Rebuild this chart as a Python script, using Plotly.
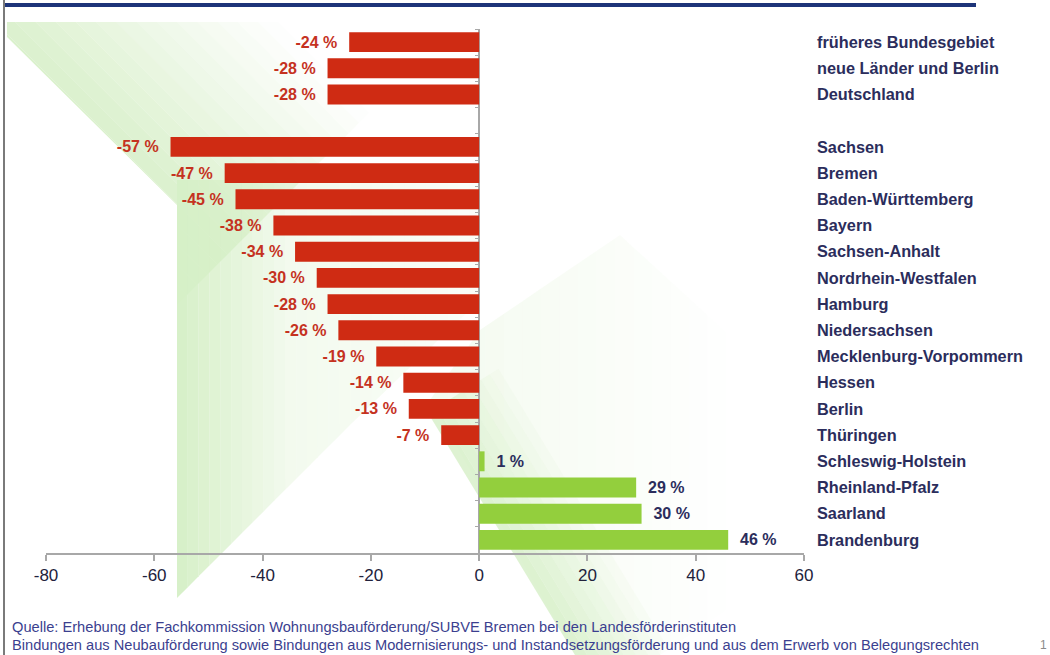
import math
import plotly.graph_objects as go

# ---------------- data ----------------
categories = [
    "früheres Bundesgebiet", "neue Länder und Berlin", "Deutschland", " ",
    "Sachsen", "Bremen", "Baden-Württemberg", "Bayern", "Sachsen-Anhalt",
    "Nordrhein-Westfalen", "Hamburg", "Niedersachsen", "Mecklenburg-Vorpommern",
    "Hessen", "Berlin", "Thüringen", "Schleswig-Holstein", "Rheinland-Pfalz",
    "Saarland", "Brandenburg",
]
values = [-24, -28, -28, None,
          -57, -47, -45, -38, -34, -30, -28, -26, -19, -14, -13, -7,
          1, 29, 30, 46]
x_ticks = [-80, -60, -40, -20, 0, 20, 40, 60]
footnote_lines = [
    "Quelle: Erhebung der Fachkommission Wohnungsbauförderung/SUBVE Bremen bei den Landesförderinstituten",
    "Bindungen aus Neubauförderung sowie Bindungen aus Modernisierungs- und Instandsetzungsförderung und aus dem Erwerb von Belegungsrechten",
]
page_number = "1"

# ---------------- styling ----------------
W, H = 1050, 655
ML, MR, MT, MB = 46, 246, 29, 102
PW, PH = W - ML - MR, H - MT - MB
X_RANGE = [-80, 60]

RED = "#cf2b13"
GREEN = "#93cf3d"
RED_TXT = "#c5321f"
NAVY_TXT = "#2b2d5c"
AXIS_GREY = "#a8a8a8"
FONT = "Liberation Sans, Arial, sans-serif"
BG_GREEN = (214, 239, 199)


def px(x):
    return (x - ML) / PW


def py(y):
    return (H - MB - y) / PH


def path(points):
    return "M " + " L ".join(f"{px(a):.5f},{py(b):.5f}" for a, b in points) + " Z"


def clip(poly, a, b, c, keep_ge):
    """Clip polygon by half-plane a*x+b*y >= c (or <= c)."""
    def inside(p):
        v = a * p[0] + b * p[1] - c
        return v >= 0 if keep_ge else v <= 0

    out = []
    n = len(poly)
    for i in range(n):
        cur, prev = poly[i], poly[i - 1]
        ci, pi = inside(cur), inside(prev)
        if ci != pi:
            vp = a * prev[0] + b * prev[1] - c
            vc = a * cur[0] + b * cur[1] - c
            t = vp / (vp - vc)
            out.append((prev[0] + t * (cur[0] - prev[0]), prev[1] + t * (cur[1] - prev[1])))
        if ci:
            out.append(cur)
    return out


def rgba(alpha):
    r, g, b = BG_GREEN
    return f"rgba({r},{g},{b},{alpha:.3f})"


def gradient_shapes(poly, direction, stops, n=24):
    """Fill poly with a linear gradient along 'direction' (stops: list of (t, alpha))."""
    dx, dy = direction
    ln = math.hypot(dx, dy)
    dx, dy = dx / ln, dy / ln
    ts = [dx * p[0] + dy * p[1] for p in poly]
    t0, t1 = min(ts), max(ts)
    res = []
    for k in range(n):
        a0 = t0 + (t1 - t0) * k / n
        a1 = t0 + (t1 - t0) * (k + 1) / n
        piece = clip(poly, dx, dy, a0, True)
        piece = clip(piece, dx, dy, a1, False) if piece else piece
        if len(piece) < 3:
            continue
        tm = (a0 + a1) / 2
        alpha = stops[-1][1]
        if tm <= stops[0][0]:
            alpha = stops[0][1]
        else:
            for (sa, aa), (sb, ab) in zip(stops, stops[1:]):
                if sa <= tm <= sb:
                    alpha = aa + (ab - aa) * (tm - sa) / (sb - sa)
                    break
        if alpha <= 0.01:
            continue
        res.append(dict(type="path", xref="paper", yref="paper", layer="below",
                        path=path(piece), fillcolor=rgba(alpha), line_width=0))
    return res


neg_x = [v if (v is not None and v < 0) else None for v in values]
pos_x = [v if (v is not None and v >= 0) else None for v in values]
neg_txt = [f"{v} %\u00a0\u00a0" if (v is not None and v < 0) else "" for v in values]
pos_txt = [f"\u00a0\u00a0{v} %" if (v is not None and v >= 0) else "" for v in values]

fig = go.Figure()
fig.add_trace(go.Bar(
    y=categories, x=neg_x, orientation="h", marker_color=RED,
    marker_line_width=0, width=0.76,
    text=neg_txt, textposition="outside", cliponaxis=False,
    textfont=dict(family=FONT, size=16, color=RED_TXT, weight="bold"),
    hoverinfo="skip",
))
fig.add_trace(go.Bar(
    y=categories, x=pos_x, orientation="h", marker_color=GREEN,
    marker_line_width=0, width=0.76,
    text=pos_txt, textposition="outside", cliponaxis=False,
    textfont=dict(family=FONT, size=16, color=NAVY_TXT, weight="bold"),
    hoverinfo="skip",
))

R2 = math.sqrt(2)
shapes = []
# decorative background (soft green slide pattern)
shapes += gradient_shapes(
    [(480, 330), (620, 235), (800, 400), (800, 560), (660, 655), (575, 655), (430, 400)],
    (1, 0), [(430, 0.28), (740, 0.0)], n=20)
shapes += gradient_shapes(
    [(7, 22), (460, 22), (177, 305), (177, 205), (7, 37)],
    (1, -1), [(-30 / R2, 0.9), (260 / R2, 0.0)], n=28)
shapes += gradient_shapes(
    [(177, 180), (480, 180), (480, 300), (350, 425), (177, 598)],
    (1, 0), [(177, 1.0), (290, 0.3), (480, 0.12)], n=28)
shapes += gradient_shapes(
    [(428, 413), (560, 330), (700, 500), (660, 655), (575, 655)],
    (242, -147), [(151.6, 0.85), (240, 0.0)], n=18)

# top rule
shapes.append(dict(type="line", xref="paper", yref="paper",
                   x0=px(5), x1=px(976), y0=py(5), y1=py(5),
                   line=dict(color="#1d3479", width=4)))
# left frame line
shapes.append(dict(type="line", xref="paper", yref="paper",
                   x0=px(4), x1=px(4), y0=py(0), y1=py(655),
                   line=dict(color="#7a7a7a", width=2)))

annotations = []
for i, line in enumerate(footnote_lines):
    annotations.append(dict(
        text=line, xref="paper", yref="paper", x=px(10), y=py(627 + 18 * i),
        xanchor="left", yanchor="middle", showarrow=False,
        font=dict(family=FONT, size=14.65, color="#3b3f8f"),
    ))
annotations.append(dict(
    text=page_number, xref="paper", yref="paper", x=px(1043), y=py(645),
    xanchor="center", yanchor="middle", showarrow=False,
    font=dict(family=FONT, size=12, color="#8a8a8a"),
))

n_cat = len(categories)
zero_pos = (0 - X_RANGE[0]) / (X_RANGE[1] - X_RANGE[0])
boundary_ticks = [i + 0.5 for i in range(-1, n_cat)]

fig.update_layout(
    width=W, height=H,
    margin=dict(l=ML, r=MR, t=MT, b=MB, pad=0),
    paper_bgcolor="white", plot_bgcolor="rgba(0,0,0,0)",
    barmode="overlay", showlegend=False,
    shapes=shapes, annotations=annotations,
    xaxis=dict(
        range=X_RANGE, tickvals=x_ticks, ticktext=[str(t) for t in x_ticks],
        showgrid=False, zeroline=True, zerolinecolor=AXIS_GREY, zerolinewidth=1.5,
        showline=True, linecolor=AXIS_GREY, linewidth=1.5,
        ticks="outside", ticklen=6, tickcolor=AXIS_GREY, tickwidth=1.5,
        tickfont=dict(family=FONT, size=17, color="#22223c"),
    ),
    yaxis=dict(
        categoryorder="array", categoryarray=categories,
        range=[n_cat - 0.5, -0.5],
        side="right", showgrid=False, zeroline=False, showline=False,
        ticks="", ticklabelstandoff=12,
        tickfont=dict(family=FONT, size=16.3, color=NAVY_TXT, weight="bold"),
    ),
    # category boundary tick marks on the zero line
    yaxis2=dict(
        overlaying="y", anchor="free", position=zero_pos, side="left",
        range=[n_cat - 0.5, -0.5], tickmode="array", tickvals=boundary_ticks,
        ticks="outside", ticklen=4, tickcolor=AXIS_GREY, tickwidth=1,
        showticklabels=False, showgrid=False, zeroline=False, showline=False,
    ),
)
# invisible helper trace so the boundary-tick axis is drawn
fig.add_trace(go.Scatter(x=[None], y=[None], yaxis="y2", mode="markers",
                         hoverinfo="skip", showlegend=False))

fig.write_html("out.html")
